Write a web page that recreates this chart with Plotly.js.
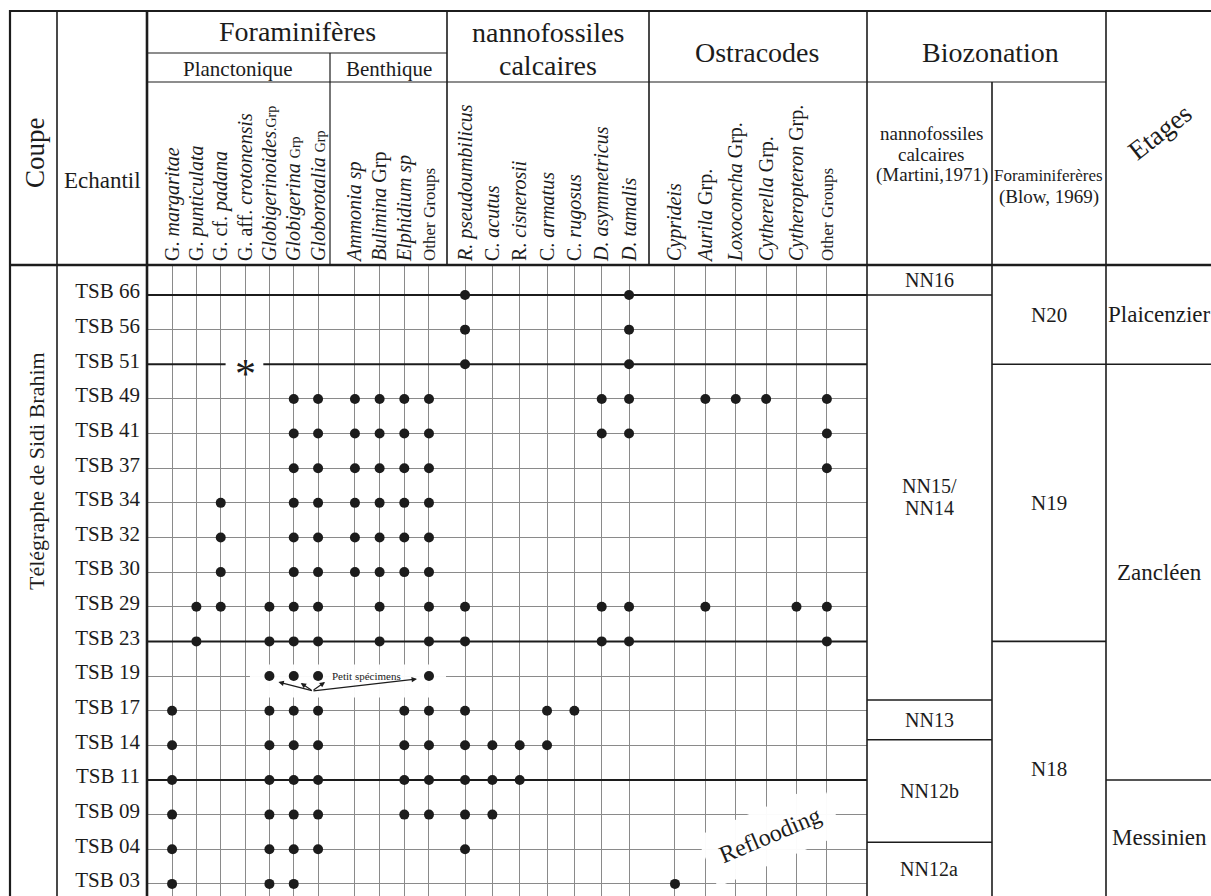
<!DOCTYPE html>
<html><head><meta charset="utf-8">
<script src="https://cdn.plot.ly/plotly-3.0.1.min.js"></script>
<style>html,body{margin:0;padding:0;background:#fff}#chart{width:1211px;height:896px}</style>
</head><body><div id="chart"></div>
<script>
// ---------------- DATA ----------------
const samples = ['TSB 66','TSB 56','TSB 51','TSB 49','TSB 41','TSB 37','TSB 34','TSB 32','TSB 30',
                 'TSB 29','TSB 23','TSB 19','TSB 17','TSB 14','TSB 11','TSB 09','TSB 04','TSB 03'];

const planktonicTaxa = ['G. margaritae','G. punticulata','G. cf. padana','G. aff. crotonensis',
                        'Globigerinoides Grp','Globigerina Grp','Globorotalia Grp'];
const planktonicLabels = ['G. <i>margaritae</i>','G. <i>punticulata</i>','G. cf. <i>padana</i>',
  'G. aff. <i>crotonensis</i>','<i>Globigerinoides</i><span style="font-size:14px">.Grp</span>',
  '<i>Globigerina</i> <span style="font-size:14px">Grp</span>','<i>Globorotalia</i> <span style="font-size:14px">Grp</span>'];
const benthicTaxa = ['Ammonia sp','Bulimina Grp','Elphidium sp','Other Groups'];
const benthicLabels = ['<i>Ammonia sp</i>','<i>Bulimina</i> Grp','<i>Elphidium sp</i>','<span style="font-size:17px">Other Groups</span>'];
const nannoTaxa = ['R. pseudoumbilicus','C. acutus','R. cisnerosii','C. armatus','C. rugosus','D. asymmetricus','D. tamalis'];
const nannoLabels = ['<i>R. pseudoumbilicus</i>','C. <i>acutus</i>','R. <i>cisnerosii</i>','C. <i>armatus</i>',
  'C. <i>rugosus</i>','<i>D. asymmetricus</i>','<i>D. tamalis</i>'];
const ostracodTaxa = ['Cyprideis','Aurila Grp.','Loxoconcha Grp.','Cytherella Grp.','Cytheropteron Grp.','Other Groups'];
const ostracodLabels = ['<i>Cyprideis</i>','<i>Aurila</i> Grp.','<i>Loxoconcha</i> Grp.','<i>Cytherella</i> Grp.',
  '<i>Cytheropteron</i> Grp.','<span style="font-size:17px">Other Groups</span>'];

// presence (1) / absence (0), one string per sample, one character per taxon
const planktonicOcc = ['0000000','0000000','0000000','0000011','0000011','0000011','0010011','0010011','0010011',
                       '0110111','0100111','0000111','1000111','1000111','1000111','1000111','1000111','1000110'];
const benthicOcc    = ['0000','0000','0000','1111','1111','1111','1111','1111','1111',
                       '0101','0101','0001','0011','0011','0011','0011','0000','0000'];
const nannoOcc      = ['1000001','1000001','1000001','0000011','0000011','0000000','0000000','0000000','0000000',
                       '1000011','1000011','0000000','1001100','1111000','1110000','1100000','1000000','0000000'];
const ostracodOcc   = ['000000','000000','000000','011101','000001','000001','000000','000000','000000',
                       '010011','000001','000000','000000','000000','000000','000000','000000','100000'];

const boundarySamples = ['TSB 66','TSB 51','TSB 23','TSB 11'];
const asteriskTaxon = 'G. aff. crotonensis', asteriskSample = 'TSB 51';
const smallSpecimenSample = 'TSB 19';

// zones (boundaries in sample-row units; ends = top / bottom of the grid)
const Y_TOP = -0.866, Y_BOT = 17.35;
const nannoZones = [['NN16'],['NN15/','NN14'],['NN13'],['NN12b'],['NN12a']];
const nannoBounds = [Y_TOP, 0, 11.69, 12.84, 15.8, Y_BOT];
const foramZones = ['N20','N19','N18'];
const foramBounds = [Y_TOP, 2, 10, Y_BOT];
const stages = ['Plaicenzier','Zancléen','Messinien'];
const stageBounds = [Y_TOP, 2, 14, Y_BOT];

// ---------------- LAYOUT HELPERS ----------------
const W = 1211, H = 896;
const X = p => p / W, Y = p => 1 - p / H;
const FONT = '"Liberation Serif", "Times New Roman", "DejaVu Serif", serif';
const INK = '#1c1c1c';

function dots(taxa, occ, xa) {
  const xs = [], ys = [];
  occ.forEach((row, i) => { for (let j = 0; j < row.length; j++) if (row[j] === '1') { xs.push(taxa[j]); ys.push(samples[i]); } });
  return {type:'scatter', mode:'markers', x:xs, y:ys, xaxis:xa, yaxis:'y',
          marker:{size:10, color:INK}, hoverinfo:'skip', cliponaxis:false};
}
const data = [
  dots(planktonicTaxa, planktonicOcc, 'x'),
  dots(benthicTaxa, benthicOcc, 'x2'),
  dots(nannoTaxa, nannoOcc, 'x3'),
  dots(ostracodTaxa, ostracodOcc, 'x4')
];

function xax(x0, x1, taxa, labels, range) {
  return {domain:[X(x0), X(x1)], anchor:'y', type:'category', categoryorder:'array', categoryarray:taxa,
    range:range, side:'top', tickangle:-90, tickmode:'array', tickvals:taxa, ticktext:labels,
    tickfont:{family:FONT, size:20, color:INK}, ticks:'', ticklabelstandoff:3,
    showgrid:true, gridcolor:'#8a8a8a', gridwidth:1, zeroline:false, showline:false,
    fixedrange:true, automargin:false};
}

const shapes = [];
function hline(y, xa, xb, w, yref) {
  shapes.push({type:'line', xref:'paper', yref:yref || 'paper', x0:X(xa), x1:X(xb),
    y0:yref ? y : Y(y), y1:yref ? y : Y(y), line:{color:INK, width:w}});
}
function vline(x, ya, yb, w) {
  shapes.push({type:'line', xref:'paper', yref:'paper', x0:X(x), x1:X(x), y0:Y(ya), y1:Y(yb), line:{color:INK, width:w}});
}
// frame
hline(11, 9, 1211, 2.2);
vline(10, 10, 896, 2.2);
vline(57, 11, 896, 1.6);
vline(147, 11, 896, 2.6);
hline(53, 147, 447, 1.2);
hline(82, 147, 1106, 1.2);
vline(330, 53, 265, 1.2);
vline(447, 11, 265, 1.6);
vline(649, 11, 265, 1.6);
vline(867, 11, 896, 1.6);
vline(992, 82, 896, 1.6);
vline(1106, 11, 896, 1.6);
hline(265, 10, 1211, 2.6);
// thick sample boundaries
boundarySamples.forEach(s => hline(s, 147, 867, 2, 'y'));
// zone boundaries
nannoBounds.slice(1, -1).forEach(b => hline(b, 867, 992, 1.6, 'y'));
foramBounds.slice(1, -1).forEach(b => hline(b, 992, 1106, 1.6, 'y'));
stageBounds.slice(1, -1).forEach(b => hline(b, 1106, 1211, 1.6, 'y'));
// white gap around the asterisk
const ai = planktonicTaxa.indexOf(asteriskTaxon);
shapes.push({type:'line', xref:'x', yref:'y', x0:ai - 0.8, x1:ai + 0.75, y0:asteriskSample, y1:asteriskSample,
  line:{color:'#ffffff', width:5}});
// white panel behind "Petit spécimens"
const si = samples.indexOf(smallSpecimenSample);
shapes.push({type:'rect', xref:'x', yref:'y', x0:3.2, x1:7, y0:si - 0.33, y1:si + 0.62, layer:'between',
  fillcolor:'rgba(255,255,255,0.96)', line:{width:0}});
shapes.push({type:'rect', xref:'x2', yref:'y', x0:-1.2, x1:3.69, y0:si - 0.33, y1:si + 0.62, layer:'between',
  fillcolor:'rgba(255,255,255,0.96)', line:{width:0}});

const ann = [];
function txt(t, x, y, size, opts) {
  ann.push(Object.assign({xref:'paper', yref:'paper', x:X(x), y:Y(y), text:t, showarrow:false,
    font:{family:FONT, size:size, color:INK}, xanchor:'center', yanchor:'middle'}, opts || {}));
}
txt('Coupe', 35, 153, 27, {textangle:-90});
txt('Echantil', 102, 180, 23);
txt('Foraminifères', 297, 32, 28);
txt('Planctonique', 238, 69, 21);
txt('Benthique', 389, 69, 21);
txt('nannofossiles', 548, 33, 28);
txt('calcaires', 548, 65, 28);
txt('Ostracodes', 757, 52, 28);
txt('Biozonation', 990, 53, 28);
txt('nannofossiles', 931, 133, 19);
txt('calcaires', 931, 154, 19);
txt('(Martini,1971)', 932, 175, 19);
txt('Foraminiferères', 1048, 176, 17);
txt('(Blow, 1969)', 1049, 197, 19);
txt('Etages', 1160, 132, 27, {textangle:-38});
txt('Télégraphe de Sidi Brahim', 36, 471, 22, {textangle:-90});

function zoneLabels(names, bounds, xc, size) {
  names.forEach((n, i) => {
    const lines = Array.isArray(n) ? n : [n];
    const yc = (bounds[i] + bounds[i + 1]) / 2;
    lines.forEach((l, k) => ann.push({xref:'paper', yref:'y', x:X(xc), y:yc, text:l, showarrow:false,
      yshift:(lines.length - 1) * 11 - k * 22,
      font:{family:FONT, size:size, color:INK}, xanchor:'center', yanchor:'middle'}));
  });
}
zoneLabels(nannoZones, nannoBounds, 929, 20);
zoneLabels(foramZones, foramBounds, 1049, 21);
zoneLabels(stages, stageBounds, 1159, 23);

// asterisk
ann.push({xref:'x', yref:'y', x:asteriskTaxon, y:asteriskSample, text:'*', showarrow:false, yshift:-10,
  font:{family:FONT, size:42, color:INK}});
// petit spécimens
txt('Petit spécimens', 367, 676, 11);
const arr = {showarrow:true, text:'', arrowhead:2, arrowsize:0.9, arrowwidth:1.2, arrowcolor:INK, yref:'y', y:smallSpecimenSample};
ann.push(Object.assign({}, arr, {xref:'x', x:'Globigerinoides Grp', xshift:9, yshift:-6, ax:35, ay:9}));
ann.push(Object.assign({}, arr, {xref:'x', x:'Globigerina Grp', xshift:7, yshift:-7, ax:12, ay:8}));
ann.push(Object.assign({}, arr, {xref:'x', x:'Globorotalia Grp', xshift:7, yshift:-6, ax:-13, ay:9}));
ann.push(Object.assign({}, arr, {xref:'x2', x:'Other Groups', xshift:-12, yshift:-3, ax:-105, ay:12}));
// reflooding
txt('Reflooding', 770, 835, 24, {textangle:-23, bgcolor:'rgba(255,255,255,0.97)', borderpad:14});

const layout = {
  width:W, height:H, margin:{l:0, r:0, t:0, b:0}, paper_bgcolor:'#ffffff', plot_bgcolor:'rgba(0,0,0,0)',
  showlegend:false, hovermode:false,
  xaxis: xax(147, 330, planktonicTaxa, planktonicLabels, [-1.03, 6.49]),
  xaxis2: xax(330, 447, benthicTaxa, benthicLabels, [-1.01, 3.73]),
  xaxis3: xax(447, 649, nannoTaxa, nannoLabels, [-0.66, 6.73]),
  xaxis4: xax(649, 867, ostracodTaxa, ostracodLabels, [-0.855, 6.32]),
  yaxis: {domain:[0, Y(265)], anchor:'x', type:'category', categoryorder:'array', categoryarray:samples,
    range:[Y_BOT, Y_TOP], tickfont:{family:FONT, size:21, color:INK}, ticks:'', ticklabelstandoff:6,
    ticklabelshift:4, showgrid:true, gridcolor:'#8a8a8a', gridwidth:1, zeroline:false, showline:false,
    fixedrange:true, automargin:false},
  font:{family:FONT, color:INK},
  shapes:shapes, annotations:ann
};
Plotly.newPlot('chart', data, layout, {staticPlot:true, displayModeBar:false});
</script></body></html>
